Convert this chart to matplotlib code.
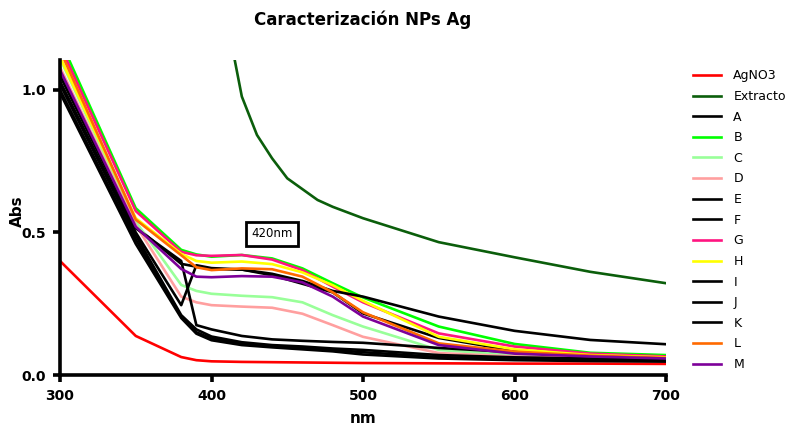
import numpy as np
import matplotlib
matplotlib.use('Agg')
import matplotlib.pyplot as plt

# wavelengths (nm) shared by all samples
wl = [300, 350, 380, 390, 400, 420, 440, 460, 480, 500, 550, 600, 650, 700]

agno3 = [0.40, 0.137, 0.063, 0.052, 0.048, 0.046, 0.045, 0.044, 0.043, 0.042, 0.041, 0.040, 0.040, 0.039]

# extract was measured on its own grid
wl_ext = [400, 410, 420, 430, 440, 450, 470, 480, 500, 550, 600, 650, 700]
extracto = [1.60, 1.25, 0.977, 0.842, 0.76, 0.69, 0.614, 0.59, 0.55, 0.466, 0.413, 0.362, 0.322]

A = [1.07, 0.52, 0.39, 0.38, 0.372, 0.37, 0.35, 0.32, 0.29, 0.216, 0.13, 0.085, 0.07, 0.06]
B = [1.176, 0.585, 0.439, 0.423, 0.415, 0.421, 0.409, 0.374, 0.322, 0.272, 0.17, 0.109, 0.078, 0.07]
C = [1.11, 0.538, 0.316, 0.295, 0.285, 0.278, 0.273, 0.255, 0.21, 0.17, 0.088, 0.07, 0.065, 0.06]
D = [1.08, 0.526, 0.275, 0.255, 0.245, 0.24, 0.236, 0.215, 0.175, 0.134, 0.077, 0.065, 0.06, 0.058]
E = [1.05, 0.515, 0.40, 0.175, 0.16, 0.137, 0.125, 0.12, 0.116, 0.113, 0.095, 0.08, 0.07, 0.065]
F = [1.02, 0.49, 0.21, 0.16, 0.135, 0.115, 0.105, 0.10, 0.093, 0.088, 0.07, 0.062, 0.058, 0.055]
G = [1.156, 0.575, 0.432, 0.42, 0.418, 0.421, 0.405, 0.368, 0.31, 0.255, 0.146, 0.10, 0.075, 0.065]
H = [1.115, 0.55, 0.425, 0.40, 0.394, 0.398, 0.389, 0.36, 0.315, 0.26, 0.134, 0.09, 0.07, 0.062]
I = [1.0, 0.475, 0.205, 0.15, 0.128, 0.11, 0.10, 0.095, 0.088, 0.08, 0.063, 0.056, 0.053, 0.05]
J = [0.99, 0.46, 0.20, 0.145, 0.122, 0.105, 0.097, 0.09, 0.083, 0.072, 0.058, 0.052, 0.049, 0.047]
K = [1.03, 0.50, 0.245, 0.385, 0.375, 0.37, 0.355, 0.33, 0.295, 0.275, 0.205, 0.155, 0.123, 0.108]
L = [1.14, 0.545, 0.42, 0.378, 0.368, 0.374, 0.371, 0.345, 0.29, 0.22, 0.111, 0.082, 0.068, 0.06]
M = [1.07, 0.52, 0.372, 0.345, 0.343, 0.347, 0.345, 0.325, 0.275, 0.205, 0.105, 0.075, 0.065, 0.058]

samples = ['A', 'B', 'C', 'D', 'E', 'F', 'G', 'H', 'I', 'J', 'K', 'L', 'M']
sample_vals = [A, B, C, D, E, F, G, H, I, J, K, L, M]
colors = ['black', '#00ff00', '#99ff99', '#ff9f9f', 'black', 'black', '#ff1480',
          '#ffff00', 'black', 'black', 'black', '#ff6a00', '#7d0099']

fig = plt.figure(figsize=(7.96, 4.28), dpi=100)
ax = fig.add_axes([0.0754, 0.1238, 0.7613, 0.736])

lw = 1.9
ax.plot(wl, agno3, color='#ff0000', lw=lw, label='AgNO3')
ax.plot(wl_ext, extracto, color='#0b5e0b', lw=lw, label='Extracto')
for name, vals, c in zip(samples, sample_vals, colors):
    ax.plot(wl, vals, color=c, lw=lw, label=name)

ax.set_xlim(300, 700)
ax.set_ylim(0, 1.105)
ax.set_xticks([300, 400, 500, 600, 700])
ax.set_yticks([0.0, 0.5, 1.0])
ax.set_yticklabels(['0.0', '0.5', '1.0'])

for s in ['top', 'right']:
    ax.spines[s].set_visible(False)
for s in ['left', 'bottom']:
    ax.spines[s].set_linewidth(2.6)
ax.tick_params(width=2.6, length=5, labelsize=10, pad=5)
for t in ax.get_xticklabels() + ax.get_yticklabels():
    t.set_fontweight('bold')

ax.text(440, 0.495, '420nm', fontsize=8.5, ha='center', va='center',
        bbox=dict(boxstyle='square,pad=0.45', fc='white', ec='black', lw=2))

ax.set_title('Caracterización NPs Ag', fontsize=12, fontweight='bold', pad=25)
ax.set_xlabel('nm', fontsize=11, fontweight='bold', labelpad=6)
ax.set_ylabel('Abs', fontsize=11, fontweight='bold')
ax.yaxis.set_label_coords(-0.058, 0.52)

fig.legend(loc='upper left', bbox_to_anchor=(0.871, 0.838), frameon=False,
           fontsize=9, handlelength=2.2, handletextpad=1.0, labelspacing=0.61,
           borderpad=0, borderaxespad=0)

plt.savefig('out.png', dpi=100)
